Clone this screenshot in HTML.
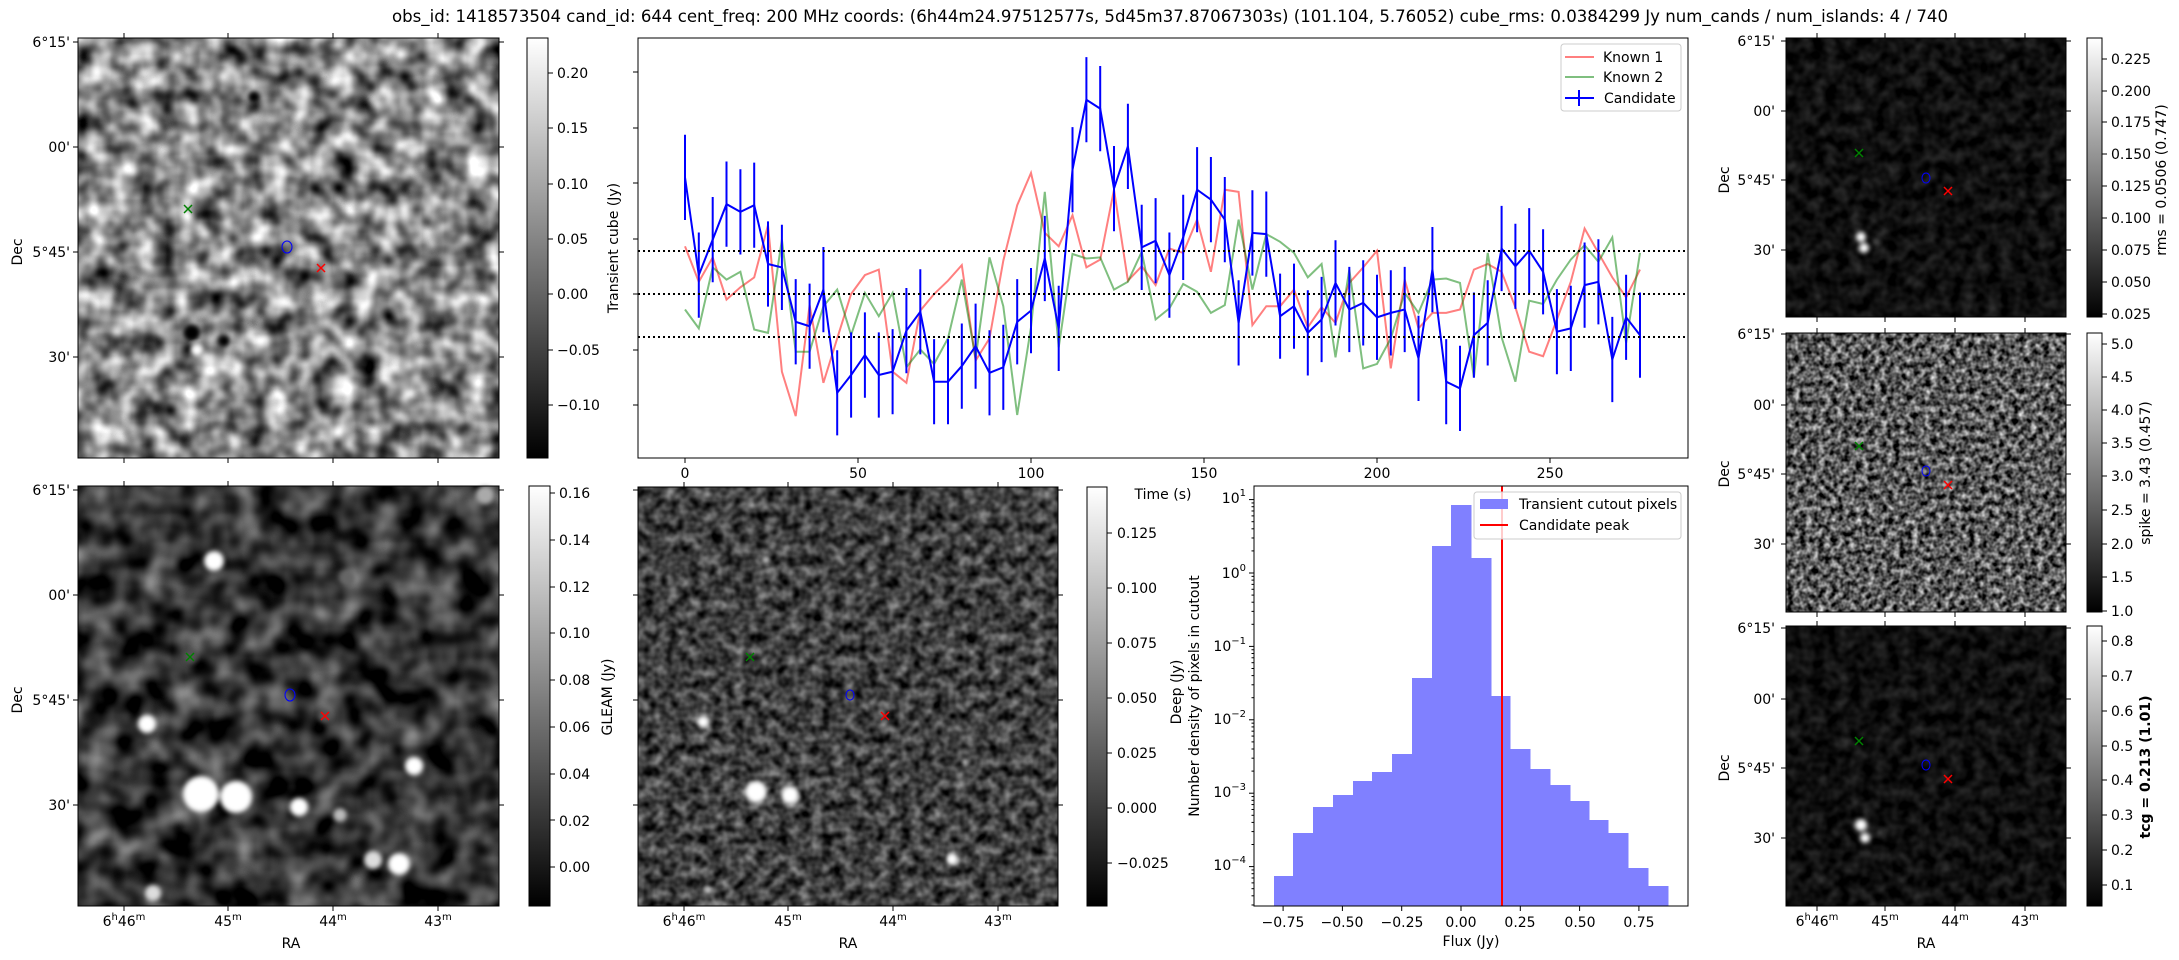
<!DOCTYPE html>
<html><head><meta charset="utf-8"><style>
html,body{margin:0;padding:0;background:#fff;}
svg{display:block;font-family:"DejaVu Sans","Liberation Sans",sans-serif;}
</style></head><body>
<svg id="s" width="2179" height="960" viewBox="0 0 2179 960">
<defs>
<linearGradient id="cb" x1="0" y1="1" x2="0" y2="0"><stop offset="0" stop-color="#000"/><stop offset="1" stop-color="#fff"/></linearGradient>
<filter id="f1" x="0" y="0" width="1" height="1" color-interpolation-filters="sRGB"><feTurbulence type="fractalNoise" baseFrequency="0.045" numOctaves="2" seed="3"/><feColorMatrix type="matrix" values="1.5 0 0 0 -0.22 1.5 0 0 0 -0.22 1.5 0 0 0 -0.22 0 0 0 0 1"/></filter>
<filter id="f2" x="0" y="0" width="1" height="1" color-interpolation-filters="sRGB"><feTurbulence type="fractalNoise" baseFrequency="0.035" numOctaves="2" seed="7"/><feColorMatrix type="matrix" values="1.0 0 0 0 -0.3 1.0 0 0 0 -0.3 1.0 0 0 0 -0.3 0 0 0 0 1"/></filter>
<filter id="f3" x="0" y="0" width="1" height="1" color-interpolation-filters="sRGB"><feTurbulence type="fractalNoise" baseFrequency="0.09" numOctaves="2" seed="11"/><feColorMatrix type="matrix" values="0.8 0 0 0 -0.15 0.8 0 0 0 -0.15 0.8 0 0 0 -0.15 0 0 0 0 1"/></filter>
<filter id="f4" x="0" y="0" width="1" height="1" color-interpolation-filters="sRGB"><feTurbulence type="fractalNoise" baseFrequency="0.08" numOctaves="2" seed="5"/><feColorMatrix type="matrix" values="0.3 0 0 0 -0.09 0.3 0 0 0 -0.09 0.3 0 0 0 -0.09 0 0 0 0 1"/></filter>
<filter id="f5" x="0" y="0" width="1" height="1" color-interpolation-filters="sRGB"><feTurbulence type="fractalNoise" baseFrequency="0.16" numOctaves="2" seed="9"/><feColorMatrix type="matrix" values="1.4 0 0 0 -0.35 1.4 0 0 0 -0.35 1.4 0 0 0 -0.35 0 0 0 0 1"/></filter>
<filter id="bl" x="-1" y="-1" width="3" height="3"><feGaussianBlur stdDeviation="2.5"/></filter>
</defs>
<rect width="2179" height="960" fill="#fff"/>

<text x="1170" y="22" font-size="16.7" text-anchor="middle" textLength="1556" lengthAdjust="spacingAndGlyphs">obs_id: 1418573504 cand_id: 644 cent_freq: 200 MHz coords: (6h44m24.97512577s, 5d45m37.87067303s) (101.104, 5.76052) cube_rms: 0.0384299 Jy num_cands / num_islands: 4 / 740</text>

<!-- top-left image -->
<rect x="78" y="38" width="421" height="420" filter="url(#f1)"/>
<g filter="url(#bl)"><circle cx="192" cy="333" r="8" fill="#000"/><circle cx="224" cy="341" r="6" fill="#000"/><circle cx="197" cy="350" r="6" fill="#fff"/><circle cx="254" cy="97" r="6" fill="#000"/></g>
<rect x="78" y="38" width="421" height="420" fill="none" stroke="#000"/>
<g stroke="green" stroke-width="1.5"><line x1="184" y1="205" x2="192" y2="213"/><line x1="192" y1="205" x2="184" y2="213"/></g>
<ellipse cx="287" cy="247" rx="5" ry="6" fill="none" stroke="blue"/>
<g stroke="red" stroke-width="1.5"><line x1="317" y1="264" x2="325" y2="272"/><line x1="325" y1="264" x2="317" y2="272"/></g>
<rect x="527" y="38" width="21" height="420" fill="url(#cb)" stroke="#000"/>
<g font-size="14">
<text x="70" y="47" text-anchor="end">6°15'</text><text x="70" y="152" text-anchor="end">00'</text><text x="70" y="257" text-anchor="end">5°45'</text><text x="70" y="362" text-anchor="end">30'</text>
<text transform="translate(22,252) rotate(-90)" text-anchor="middle">Dec</text>
<text x="557" y="78">0.20</text><text x="557" y="133">0.15</text><text x="557" y="189">0.10</text><text x="557" y="244">0.05</text><text x="557" y="299">0.00</text><text x="557" y="355">−0.05</text><text x="557" y="410">−0.10</text>
</g>

<!-- line plot -->
<rect x="638" y="38" width="1050" height="420" fill="none" stroke="#000"/>
<g id="lp"></g>
<g stroke="#000" stroke-width="2" stroke-dasharray="2,3"><line x1="638" y1="251" x2="1688" y2="251"/><line x1="638" y1="294" x2="1688" y2="294"/><line x1="638" y1="337" x2="1688" y2="337"/></g>
<g font-size="14" text-anchor="middle">
<text x="685" y="478">0</text><text x="858" y="478">50</text><text x="1031" y="478">100</text><text x="1204" y="478">150</text><text x="1377" y="478">200</text><text x="1550" y="478">250</text>
<text x="1163" y="499">Time (s)</text>
<text transform="translate(618,248) rotate(-90)">Transient cube (Jy)</text>
</g>
<rect x="1561" y="44" width="120" height="67" rx="3" fill="#fff" fill-opacity="0.8" stroke="#ccc"/>
<line x1="1565" y1="57" x2="1594" y2="57" stroke="red" stroke-opacity="0.5" stroke-width="2"/>
<line x1="1565" y1="77" x2="1594" y2="77" stroke="green" stroke-opacity="0.5" stroke-width="2"/>
<line x1="1565" y1="98" x2="1594" y2="98" stroke="blue" stroke-width="2"/><line x1="1579" y1="90" x2="1579" y2="106" stroke="blue" stroke-width="2"/>
<g font-size="14"><text x="1603" y="62">Known 1</text><text x="1603" y="82">Known 2</text><text x="1604" y="103">Candidate</text></g>

<!-- bottom-left image -->
<rect x="78" y="486" width="421" height="420" filter="url(#f2)"/>
<g fill="#fff" filter="url(#bl)">
<circle cx="214" cy="561" r="10"/><circle cx="147" cy="724" r="9"/><circle cx="201" cy="794" r="18"/><circle cx="236" cy="797" r="16"/><circle cx="299" cy="807" r="9"/><circle cx="340" cy="815" r="7" fill="#bbb"/><circle cx="414" cy="766" r="9"/><circle cx="373" cy="860" r="9" fill="#ddd"/><circle cx="399" cy="864" r="11"/><circle cx="153" cy="893" r="8" fill="#ddd"/><circle cx="485" cy="495" r="9" fill="#aaa"/><circle cx="347" cy="578" r="8" fill="#666"/><circle cx="190" cy="657" r="7" fill="#555"/><circle cx="325" cy="716" r="7" fill="#555"/>
</g>
<rect x="78" y="486" width="421" height="420" fill="none" stroke="#000"/>
<g stroke="green" stroke-width="1.5"><line x1="186" y1="653" x2="194" y2="661"/><line x1="194" y1="653" x2="186" y2="661"/></g>
<ellipse cx="290" cy="695" rx="5" ry="6" fill="none" stroke="blue"/>
<g stroke="red" stroke-width="1.5"><line x1="321" y1="712" x2="329" y2="720"/><line x1="329" y1="712" x2="321" y2="720"/></g>
<rect x="529" y="486" width="21" height="420" fill="url(#cb)" stroke="#000"/>
<g font-size="14">
<text x="70" y="495" text-anchor="end">6°15'</text><text x="70" y="600" text-anchor="end">00'</text><text x="70" y="705" text-anchor="end">5°45'</text><text x="70" y="810" text-anchor="end">30'</text>
<text transform="translate(22,700) rotate(-90)" text-anchor="middle">Dec</text>
<g text-anchor="middle">
<text x="124" y="926">6<tspan dy="-6" font-size="10">h</tspan><tspan dy="6">46</tspan><tspan dy="-6" font-size="10">m</tspan></text>
<text x="228" y="926">45<tspan dy="-6" font-size="10">m</tspan></text>
<text x="333" y="926">44<tspan dy="-6" font-size="10">m</tspan></text>
<text x="438" y="926">43<tspan dy="-6" font-size="10">m</tspan></text>
<text x="291" y="948">RA</text>
<text transform="translate(612,697) rotate(-90)">GLEAM (Jy)</text>
</g>
<text x="559" y="498">0.16</text><text x="559" y="545">0.14</text><text x="559" y="592">0.12</text><text x="559" y="638">0.10</text><text x="559" y="685">0.08</text><text x="559" y="732">0.06</text><text x="559" y="779">0.04</text><text x="559" y="826">0.02</text><text x="559" y="872">0.00</text>
</g>

<!-- bottom-mid image -->
<rect x="638" y="487" width="420" height="419" filter="url(#f3)"/>
<g fill="#fff" filter="url(#bl)">
<circle cx="766" cy="560" r="4" fill="#ccc"/><circle cx="703" cy="722" r="6"/><circle cx="756" cy="792" r="11"/><circle cx="790" cy="795" r="9"/><circle cx="952" cy="859" r="6"/><circle cx="965" cy="762" r="3"/><circle cx="708" cy="890" r="4" fill="#ccc"/>
</g>
<rect x="638" y="487" width="420" height="419" fill="none" stroke="#000"/>
<g stroke="green" stroke-width="1.5"><line x1="746" y1="653" x2="754" y2="661"/><line x1="754" y1="653" x2="746" y2="661"/></g>
<ellipse cx="850" cy="695" rx="4" ry="5" fill="none" stroke="blue"/>
<g stroke="red" stroke-width="1.5"><line x1="881" y1="712" x2="889" y2="720"/><line x1="889" y1="712" x2="881" y2="720"/></g>
<rect x="1087" y="487" width="20" height="419" fill="url(#cb)" stroke="#000"/>
<g font-size="14">
<g text-anchor="middle">
<text x="684" y="926">6<tspan dy="-6" font-size="10">h</tspan><tspan dy="6">46</tspan><tspan dy="-6" font-size="10">m</tspan></text>
<text x="788" y="926">45<tspan dy="-6" font-size="10">m</tspan></text>
<text x="893" y="926">44<tspan dy="-6" font-size="10">m</tspan></text>
<text x="998" y="926">43<tspan dy="-6" font-size="10">m</tspan></text>
<text x="848" y="948">RA</text>
<text transform="translate(1181,692) rotate(-90)">Deep (Jy)</text>
<text transform="translate(1199,696) rotate(-90)">Number density of pixels in cutout</text>
</g>
<text x="1117" y="538">0.125</text><text x="1117" y="593">0.100</text><text x="1117" y="648">0.075</text><text x="1117" y="703">0.050</text><text x="1117" y="758">0.025</text><text x="1117" y="813">0.000</text><text x="1117" y="868">−0.025</text>
</g>

<!-- histogram -->
<g id="hg"></g>
<line x1="1502" y1="486" x2="1502" y2="906" stroke="red" stroke-width="2"/>
<rect x="1254" y="486" width="434" height="420" fill="none" stroke="#000"/>
<rect x="1474" y="492" width="207" height="47" rx="3" fill="#fff" fill-opacity="0.8" stroke="#ccc"/>
<rect x="1480" y="499" width="28" height="10" fill="#8080ff"/>
<line x1="1480" y1="525" x2="1508" y2="525" stroke="red" stroke-width="2"/>
<g font-size="14">
<text x="1519" y="509">Transient cutout pixels</text><text x="1519" y="530">Candidate peak</text>
<g text-anchor="middle">
<text x="1283" y="927">−0.75</text><text x="1342" y="927">−0.50</text><text x="1402" y="927">−0.25</text><text x="1461" y="927">0.00</text><text x="1520" y="927">0.25</text><text x="1580" y="927">0.50</text><text x="1639" y="927">0.75</text>
<text x="1471" y="946">Flux (Jy)</text>
</g>
<g text-anchor="end">
<text x="1246" y="503">10<tspan dy="-7" font-size="10">1</tspan></text>
<text x="1246" y="578">10<tspan dy="-7" font-size="10">0</tspan></text>
<text x="1246" y="651">10<tspan dy="-7" font-size="10">−1</tspan></text>
<text x="1246" y="724">10<tspan dy="-7" font-size="10">−2</tspan></text>
<text x="1246" y="797">10<tspan dy="-7" font-size="10">−3</tspan></text>
<text x="1246" y="870">10<tspan dy="-7" font-size="10">−4</tspan></text>
</g>
</g>

<!-- right column -->
<rect x="1786" y="38" width="280" height="279" filter="url(#f4)"/>
<rect x="1786" y="333" width="280" height="279" filter="url(#f5)"/>
<rect x="1786" y="626" width="280" height="280" filter="url(#f4)"/>
<g fill="#fff" filter="url(#bl)">
<circle cx="1861" cy="237" r="5"/><circle cx="1864" cy="248" r="5"/><circle cx="1876" cy="242" r="3" fill="#555"/>
<circle cx="1861" cy="825" r="6"/><circle cx="1865" cy="838" r="5"/><circle cx="1880" cy="833" r="3" fill="#555"/>
</g>
<g fill="none" stroke="#000"><rect x="1786" y="38" width="280" height="279"/><rect x="1786" y="333" width="280" height="279"/><rect x="1786" y="626" width="280" height="280"/></g>
<g stroke="green" stroke-width="1.5"><path d="M1855 149l8 8m0-8l-8 8M1855 442l8 8m0-8l-8 8M1855 737l8 8m0-8l-8 8"/></g>
<g fill="none" stroke="blue"><ellipse cx="1926" cy="178" rx="4" ry="5"/><ellipse cx="1926" cy="471" rx="4" ry="5"/><ellipse cx="1926" cy="765" rx="4" ry="5"/></g>
<g stroke="red" stroke-width="1.5"><path d="M1944 187l8 8m0-8l-8 8M1944 481l8 8m0-8l-8 8M1944 775l8 8m0-8l-8 8"/></g>
<rect x="2087" y="38" width="15" height="279" fill="url(#cb)" stroke="#000"/>
<rect x="2087" y="333" width="15" height="279" fill="url(#cb)" stroke="#000"/>
<rect x="2087" y="626" width="15" height="280" fill="url(#cb)" stroke="#000"/>
<g font-size="14">
<g text-anchor="end">
<text x="1775" y="46">6°15'</text><text x="1775" y="116">00'</text><text x="1775" y="185">5°45'</text><text x="1775" y="255">30'</text>
<text x="1775" y="339">6°15'</text><text x="1775" y="410">00'</text><text x="1775" y="479">5°45'</text><text x="1775" y="549">30'</text>
<text x="1775" y="633">6°15'</text><text x="1775" y="704">00'</text><text x="1775" y="773">5°45'</text><text x="1775" y="843">30'</text>
</g>
<g text-anchor="middle">
<text transform="translate(1729,180) rotate(-90)">Dec</text>
<text transform="translate(1729,474) rotate(-90)">Dec</text>
<text transform="translate(1729,768) rotate(-90)">Dec</text>
<text x="1817" y="926">6<tspan dy="-6" font-size="10">h</tspan><tspan dy="6">46</tspan><tspan dy="-6" font-size="10">m</tspan></text>
<text x="1885" y="926">45<tspan dy="-6" font-size="10">m</tspan></text>
<text x="1955" y="926">44<tspan dy="-6" font-size="10">m</tspan></text>
<text x="2025" y="926">43<tspan dy="-6" font-size="10">m</tspan></text>
<text x="1926" y="948">RA</text>
<text transform="translate(2166,180) rotate(-90)">rms = 0.0506 (0.747)</text>
<text transform="translate(2150,473) rotate(-90)">spike = 3.43 (0.457)</text>
<text transform="translate(2150,767) rotate(-90)" font-weight="bold">tcg = 0.213 (1.01)</text>
</g>
<text x="2111" y="64">0.225</text><text x="2111" y="96">0.200</text><text x="2111" y="127">0.175</text><text x="2111" y="159">0.150</text><text x="2111" y="191">0.125</text><text x="2111" y="223">0.100</text><text x="2111" y="255">0.075</text><text x="2111" y="287">0.050</text><text x="2111" y="319">0.025</text>
<text x="2111" y="349">5.0</text><text x="2111" y="382">4.5</text><text x="2111" y="415">4.0</text><text x="2111" y="448">3.5</text><text x="2111" y="481">3.0</text><text x="2111" y="515">2.5</text><text x="2111" y="549">2.0</text><text x="2111" y="582">1.5</text><text x="2111" y="616">1.0</text>
<text x="2111" y="646">0.8</text><text x="2111" y="681">0.7</text><text x="2111" y="716">0.6</text><text x="2111" y="751">0.5</text><text x="2111" y="785">0.4</text><text x="2111" y="820">0.3</text><text x="2111" y="855">0.2</text><text x="2111" y="890">0.1</text>
</g>
<g id="tk" stroke="#000" stroke-width="1"></g>
</svg>
<script>
(function(){
var h='';
function L(a,b,c,d){h+='<line x1="'+a+'" y1="'+b+'" x2="'+c+'" y2="'+d+'"/>';}
function img(x0,y0,w,h2,xs,ys){xs.forEach(function(x){L(x,y0-5,x,y0);L(x,y0+h2,x,y0+h2+5);});ys.forEach(function(y){L(x0-5,y,x0,y);L(x0+w,y,x0+w+5,y);});}
img(78,38,421,420,[124,228,333,438],[42,147,252,357]);
img(78,486,421,420,[124,228,333,438],[490,595,700,805]);
img(638,487,420,419,[684,788,893,998],[490,595,700,805]);
var rx=[1817,1885,1955,2025];
img(1786,38,280,279,rx,[41,111,180,250]);
img(1786,333,280,279,rx,[334,405,474,544]);
img(1786,626,280,280,rx,[628,699,768,838]);
function cb(x,ys){ys.forEach(function(y){L(x,y,x+5,y);});}
cb(548,[73,128,184,239,294,350,405]);
cb(550,[493,540,587,633,680,727,774,820,867]);
cb(1107,[533,588,643,698,753,808,863]);
cb(2102,[59,91,122,154,186,218,250,282,314]);
cb(2102,[344,377,410,443,476,510,544,577,611]);
cb(2102,[641,676,711,746,780,815,850,885]);
[72,128,183,239,294,350,405].forEach(function(y){L(633,y,638,y);});
[685,858,1031,1204,1377,1550].forEach(function(x){L(x,458,x,463);});
[-0.75,-0.5,-0.25,0,0.25,0.5,0.75].forEach(function(v){var x=1461+237.2*v;L(x,906,x,911);});
for(var d=-5;d<=1;d++){for(var k=1;k<=9;k++){var y=573-73.4*(d+Math.log10(k));if(y<486||y>906)continue;L(k==1?1249:1251.5,y,1254,y);}}
document.getElementById('tk').innerHTML=h;

var C=[0.105,0.017,0.049,0.081,0.074,0.080,0.027,0.024,-0.025,-0.029,0.004,-0.089,-0.073,-0.055,-0.073,-0.070,-0.033,-0.016,-0.079,-0.079,-0.065,-0.047,-0.071,-0.066,-0.025,-0.015,0.032,-0.031,0.112,0.175,0.167,0.095,0.133,0.042,0.048,0.017,0.051,0.094,0.085,0.067,-0.026,0.055,0.054,-0.020,-0.011,-0.035,-0.023,0.010,-0.014,-0.008,-0.021,-0.017,-0.014,-0.058,0.022,-0.079,-0.085,-0.037,-0.026,0.041,0.025,0.039,0.020,-0.034,-0.031,0.008,0.011,-0.059,-0.021,-0.037];
var R=[0.043,0.011,0.033,-0.005,0.006,0.015,0.062,-0.07,-0.11,-0.01,-0.08,-0.04,0.0,0.017,0.022,-0.07,-0.08,-0.015,0.0,0.012,0.026,-0.06,-0.04,0.03,0.08,0.109,0.055,0.043,0.071,0.024,0.031,0.094,0.012,0.025,0.008,0.041,0.037,0.067,0.02,0.094,0.092,-0.028,-0.011,-0.011,0.004,-0.030,-0.012,-0.026,0.010,0.024,0.039,-0.067,0.013,-0.031,-0.017,-0.017,-0.014,0.022,0.027,0.020,-0.012,-0.052,-0.056,-0.023,0.011,0.059,0.037,0.015,-0.003,0.022];
var G=[-0.014,-0.031,0.024,0.013,0.020,-0.032,-0.035,0.049,-0.052,-0.052,-0.011,0.004,-0.037,0.001,-0.020,0.001,-0.066,-0.05,-0.063,-0.04,0.013,-0.058,0.033,-0.011,-0.109,-0.03,0.092,-0.048,0.036,0.032,0.033,0.004,0.011,0.038,-0.023,-0.013,0.009,0.002,-0.017,-0.010,0.067,0.004,0.054,0.047,0.037,0.015,0.027,-0.057,0.022,-0.067,-0.063,-0.040,0.001,-0.017,0.013,0.014,0.010,-0.075,0.037,-0.039,-0.079,-0.006,-0.009,0.013,0.031,0.044,0.029,0.051,-0.044,0.037];
function px(i){return (685+3.46*4*i).toFixed(1);}
function py(v){return (294-1110*v).toFixed(1);}
function pl(a){return a.map(function(v,i){return px(i)+','+py(v);}).join(' ');}
var s='';
s+='<polyline points="'+pl(R)+'" fill="none" stroke="red" stroke-opacity="0.5" stroke-width="2"/>';
s+='<polyline points="'+pl(G)+'" fill="none" stroke="green" stroke-opacity="0.5" stroke-width="2"/>';
var e='';C.forEach(function(v,i){var y=294-1110*v;e+='M'+px(i)+' '+(y-42.6).toFixed(1)+'V'+(y+42.6).toFixed(1);});
s+='<path d="'+e+'" stroke="blue" stroke-width="2" fill="none"/>';
s+='<polyline points="'+pl(C)+'" fill="none" stroke="blue" stroke-width="2"/>';
document.getElementById('lp').innerHTML=s;

var E=[1274,1293,1313,1333,1353,1372,1392,1412,1432,1451,1471,1491,1510,1530,1550,1570,1589,1608,1628,1648,1668];
var T=[876,833,807,795,781,772,754,678,546,505,558,696,749,769,785,801,820,833,868,886];
var hh='';T.forEach(function(t,i){hh+='<rect x="'+E[i]+'" y="'+t+'" width="'+(E[i+1]-E[i]+0.5)+'" height="'+(906-t)+'" fill="#8080ff"/>';});
document.getElementById('hg').innerHTML=hh;
})();
</script>
</body></html>
